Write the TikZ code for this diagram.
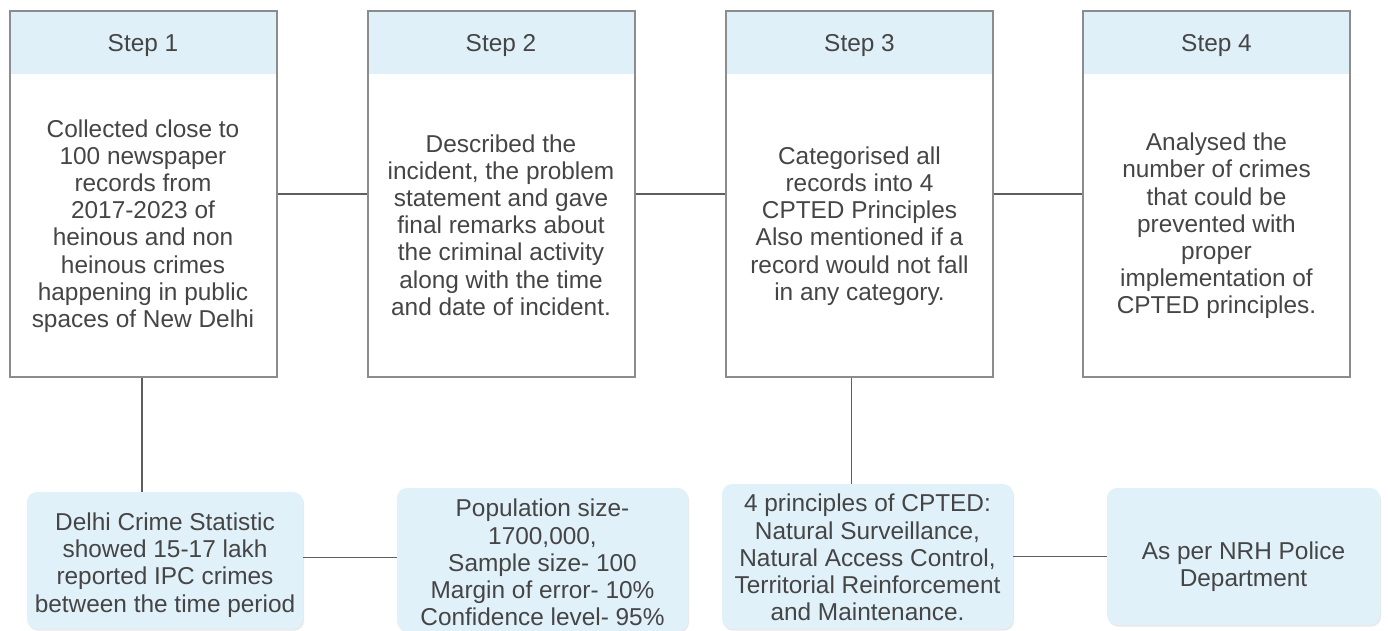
\documentclass[tikz,border=0pt]{standalone}
\usepackage{fontspec}
\setmainfont{Liberation Sans}
\usetikzlibrary{shadows}

\definecolor{headblue}{HTML}{E0F0F8}
\definecolor{noteblue}{HTML}{E1F1F9}
\definecolor{boxgray}{HTML}{8C8C8C}
\definecolor{linkgray}{HTML}{5E5E5E}
\definecolor{txtgray}{HTML}{454545}

\tikzset{
  stepbox/.style={draw=boxgray,line width=1pt,minimum width=133.5pt,minimum height=182.5pt,inner sep=0pt,
    path picture={\fill[headblue] (path picture bounding box.north west) rectangle ([yshift=-31.5pt]path picture bounding box.north east);}},
  steptitle/.style={text=txtgray,font=\fontsize{12.2}{13.7}\selectfont},
  steptext/.style={text=txtgray,align=center,font=\fontsize{12.2}{13.6}\selectfont},
  notebox/.style={fill=noteblue,rounded corners=5pt,inner sep=0pt,
    drop shadow={shadow xshift=0.5pt,shadow yshift=-0.8pt,opacity=0.18}},
  notetext/.style={text=txtgray,align=center,font=\fontsize{12.2}{13.6}\selectfont},
  link/.style={draw=linkgray,line width=0.9pt}
}

\begin{document}
\begin{tikzpicture}[x=0.5pt,y=-0.5pt]
  \useasboundingbox (0,0) rectangle (1388,631);

  % the four steps
  \node[stepbox] (s1) at (143,194) {};
  \node[stepbox] (s2) at (501,194) {};
  \node[stepbox] (s3) at (859.5,194) {};
  \node[stepbox] (s4) at (1216.5,194) {};
  \node[steptitle] (h1) at ([yshift=-17.5pt]s1.north) {Step 1};
  \node[steptitle] (h2) at ([yshift=-17.5pt]s2.north) {Step 2};
  \node[steptitle] (h3) at ([yshift=-17.5pt]s3.north) {Step 3};
  \node[steptitle] (h4) at ([yshift=-17.5pt]s4.north) {Step 4};

  \node[steptext] (t1) at (143,226) {Collected close to\\100 newspaper\\records from\\2017-2023 of\\heinous and non\\heinous crimes\\happening in public\\spaces of New Delhi};
  \node[steptext] (t2) at (501,225) {Described the\\incident, the problem\\statement and gave\\final remarks about\\the criminal activity\\along with the time\\and date of incident.};
  \node[steptext] (t3) at (859.5,226) {Categorised all\\records into 4\\CPTED Principles\\Also mentioned if a\\record would not fall\\in any category.};
  \node[steptext] (t4) at (1216.5,226) {Analysed the\\number of crimes\\that could be\\prevented with\\proper\\implementation of\\CPTED principles.};

  % notes below
  \node[notebox,minimum width=138pt,minimum height=68.5pt] (b1) at (165,560.5) {};
  \node[notebox,minimum width=145.5pt,minimum height=71.5pt] (b2) at (542.5,559.5) {};
  \node[notebox,minimum width=145.5pt,minimum height=72.5pt] (b3) at (867.5,556.5) {};
  \node[notebox,minimum width=136.5pt,minimum height=68.5pt] (b4) at (1243.5,556.5) {};
  \node[notetext] (n1) at ([yshift=-2.2pt]b1.center) {Delhi Crime Statistic\\showed 15-17 lakh\\reported IPC crimes\\between the time period};
  \node[notetext] (n2) at ([yshift=-1.5pt]b2.center) {Population size-\\1700,000,\\Sample size- 100\\Margin of error- 10\%\\Confidence level- 95\%};
  \node[notetext] (n3) at ([yshift=-0.5pt]b3.center) {4 principles of CPTED:\\Natural Surveillance,\\Natural Access Control,\\Territorial Reinforcement\\and Maintenance.};
  \node[notetext] (n4) at ([yshift=-5pt]b4.center) {As per NRH Police\\Department};

  % connectors
  \draw[link] (s1.east) -- (s2.west);
  \draw[link] (s2.east) -- (s3.west);
  \draw[link] (s3.east) -- (s4.west);
  \draw[link] ([xshift=-0.5pt]s1.south) -- ([xshift=-0.5pt]s1.south |- b1.north);
  \draw[link] ([xshift=-4pt]s3.south) -- ([xshift=-4pt]s3.south |- b3.north);
  \draw[link] ([yshift=1.5pt]b1.east) -- ([yshift=1.5pt]b1.east -| b2.west);
  \draw[link] (b3.east) -- (b4.west);
\end{tikzpicture}
\end{document}
